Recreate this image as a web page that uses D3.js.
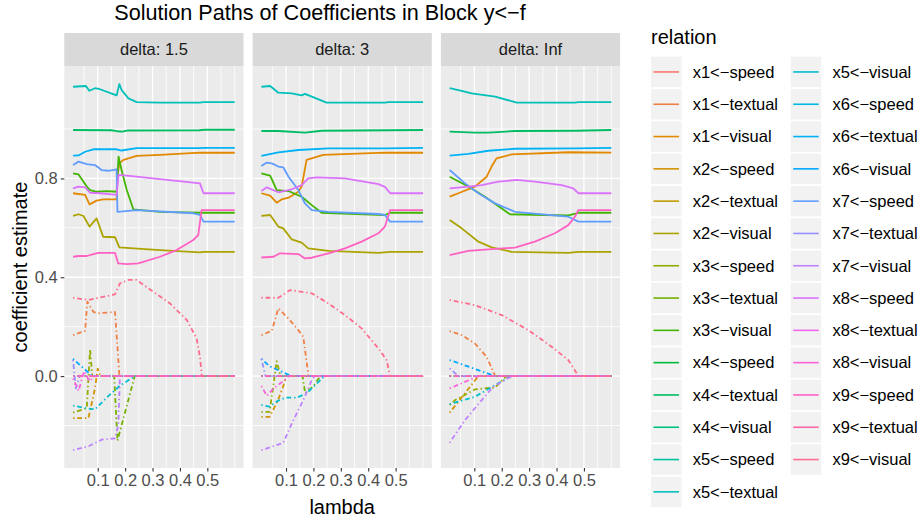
<!DOCTYPE html>
<html>
<head>
<meta charset="utf-8">
<script src="https://cdn.jsdelivr.net/npm/d3@7.9.0/dist/d3.min.js"></script>
<style>
  body { margin: 0; background: #fff; }
  svg { display: block; font-family: "Liberation Sans", Arial, sans-serif; }
</style>
</head>
<body>
<svg id="chart" width="922" height="525"></svg>
<script>
// relations in legend order
const relations = [
  'x1<-speed', 'x1<-textual', 'x1<-visual',
  'x2<-speed', 'x2<-textual', 'x2<-visual',
  'x3<-speed', 'x3<-textual', 'x3<-visual',
  'x4<-speed', 'x4<-textual', 'x4<-visual',
  'x5<-speed', 'x5<-textual', 'x5<-visual',
  'x6<-speed', 'x6<-textual', 'x6<-visual',
  'x7<-speed', 'x7<-textual', 'x7<-visual',
  'x8<-speed', 'x8<-textual', 'x8<-visual',
  'x9<-speed', 'x9<-textual', 'x9<-visual'
];
// loadings drawn solid, the rest are cross-loadings (dot-dash)
const mainLoadings = [
  'x1<-visual', 'x2<-visual', 'x3<-visual',
  'x4<-textual', 'x5<-textual', 'x6<-textual',
  'x7<-speed', 'x8<-speed', 'x9<-speed'
];
const deltas = ['1.5', '3', 'Inf'];
const xTicks = [0.1, 0.2, 0.3, 0.4, 0.5];
const yTicks = [0, 0.4, 0.8];

// [lambda, estimate]; a relation not listed stays at 0
const zeroPath = [[0.01, 0], [0.6, 0]];

const delta15 = {
  'x5<-textual': [[0.01,1.171],[0.057,1.174],[0.069,1.155],[0.09,1.165],[0.108,1.161],[0.169,1.136],[0.179,1.182],[0.187,1.158],[0.212,1.124],[0.242,1.109],[0.327,1.107],[0.473,1.107],[0.486,1.109],[0.6,1.109]],
  'x4<-textual': [[0.01,0.996],[0.15,0.995],[0.17,0.991],[0.19,0.989],[0.21,0.994],[0.47,0.995],[0.49,0.997],[0.6,0.997]],
  'x6<-textual': [[0.01,0.892],[0.03,0.893],[0.054,0.908],[0.084,0.918],[0.169,0.918],[0.187,0.913],[0.242,0.923],[0.473,0.923],[0.486,0.924],[0.6,0.924]],
  'x1<-visual': [[0.01,0.74],[0.054,0.733],[0.07,0.695],[0.096,0.71],[0.12,0.715],[0.169,0.715],[0.172,0.81],[0.179,0.861],[0.194,0.875],[0.242,0.891],[0.327,0.895],[0.473,0.904],[0.6,0.904]],
  'x7<-speed': [[0.01,0.854],[0.03,0.868],[0.06,0.858],[0.09,0.854],[0.114,0.834],[0.139,0.831],[0.169,0.837],[0.172,0.665],[0.242,0.672],[0.449,0.659],[0.473,0.652],[0.486,0.625],[0.6,0.625]],
  'x3<-visual': [[0.01,0.82],[0.03,0.816],[0.06,0.767],[0.072,0.753],[0.096,0.746],[0.133,0.749],[0.169,0.746],[0.176,0.888],[0.187,0.834],[0.206,0.753],[0.23,0.675],[0.327,0.665],[0.473,0.661],[0.6,0.661]],
  'x8<-speed': [[0.01,0.76],[0.03,0.767],[0.054,0.764],[0.072,0.742],[0.108,0.74],[0.169,0.733],[0.176,0.814],[0.206,0.811],[0.449,0.783],[0.473,0.78],[0.486,0.74],[0.6,0.74]],
  'x9<-speed': [[0.01,0.483],[0.03,0.486],[0.06,0.486],[0.084,0.494],[0.102,0.499],[0.163,0.499],[0.175,0.456],[0.206,0.453],[0.248,0.456],[0.327,0.483],[0.388,0.51],[0.449,0.551],[0.467,0.571],[0.479,0.672],[0.6,0.672]],
  'x2<-visual': [[0.01,0.648],[0.03,0.655],[0.048,0.648],[0.07,0.605],[0.096,0.638],[0.12,0.564],[0.163,0.562],[0.179,0.521],[0.327,0.51],[0.473,0.501],[0.486,0.503],[0.6,0.503]],
  'x9<-visual': [[0.01,0.317],[0.066,0.308],[0.163,0.331],[0.181,0.375],[0.212,0.389],[0.242,0.389],[0.303,0.341],[0.364,0.294],[0.425,0.227],[0.461,0.152],[0.473,0.078],[0.48,0],[0.6,0]],
  'x1<-textual': [[0.01,0.166],[0.054,0.183],[0.062,0.301],[0.084,0.26],[0.102,0.254],[0.163,0.26],[0.172,0.12],[0.179,0],[0.6,0]],
  'x7<-visual': [[0.01,-0.3],[0.066,-0.284],[0.115,-0.257],[0.163,-0.252],[0.175,-0.2],[0.181,0],[0.6,0]],
  'x6<-visual': [[0.01,0.07],[0.04,0.04],[0.08,0],[0.6,0]],
  'x5<-visual': [[0.01,-0.12],[0.06,-0.13],[0.09,-0.135],[0.13,-0.09],[0.18,-0.04],[0.235,0],[0.6,0]],
  'x7<-textual': [[0.01,0.065],[0.02,-0.05],[0.035,0],[0.6,0]],
  'x3<-speed': [[0.01,-0.148],[0.06,-0.13],[0.072,0.11],[0.08,0],[0.6,0]],
  'x3<-textual': [[0.01,0],[0.16,0],[0.172,-0.262],[0.235,0],[0.6,0]],
  'x2<-speed': [[0.01,-0.17],[0.066,-0.17],[0.09,-0.05],[0.1,0.03],[0.11,0],[0.6,0]],
  'x8<-visual': [[0.01,-0.01],[0.03,-0.06],[0.05,0.02],[0.07,-0.02],[0.09,0],[0.6,0]]
};

const delta3 = {
  'x5<-textual': [[0.01,1.171],[0.042,1.174],[0.072,1.147],[0.121,1.144],[0.157,1.136],[0.169,1.142],[0.194,1.131],[0.248,1.107],[0.461,1.107],[0.473,1.109],[0.6,1.109]],
  'x4<-textual': [[0.01,0.992],[0.072,0.992],[0.169,0.985],[0.23,0.993],[0.473,0.995],[0.6,0.996]],
  'x6<-textual': [[0.01,0.891],[0.072,0.905],[0.145,0.915],[0.255,0.922],[0.461,0.922],[0.6,0.924]],
  'x1<-visual': [[0.01,0.74],[0.042,0.73],[0.066,0.702],[0.084,0.715],[0.109,0.722],[0.145,0.746],[0.157,0.767],[0.175,0.875],[0.236,0.895],[0.461,0.904],[0.6,0.904]],
  'x7<-speed': [[0.01,0.85],[0.03,0.864],[0.048,0.861],[0.072,0.848],[0.09,0.845],[0.109,0.807],[0.145,0.753],[0.169,0.699],[0.194,0.672],[0.255,0.665],[0.437,0.656],[0.461,0.652],[0.48,0.625],[0.6,0.625]],
  'x3<-visual': [[0.01,0.82],[0.042,0.811],[0.066,0.753],[0.109,0.749],[0.157,0.726],[0.194,0.692],[0.23,0.661],[0.461,0.652],[0.48,0.661],[0.6,0.661]],
  'x8<-speed': [[0.01,0.749],[0.03,0.764],[0.072,0.744],[0.121,0.756],[0.157,0.773],[0.181,0.8],[0.212,0.804],[0.315,0.8],[0.437,0.777],[0.461,0.766],[0.48,0.74],[0.6,0.74]],
  'x9<-speed': [[0.01,0.48],[0.054,0.483],[0.078,0.497],[0.145,0.494],[0.169,0.476],[0.194,0.479],[0.255,0.497],[0.315,0.517],[0.376,0.544],[0.437,0.578],[0.461,0.605],[0.48,0.672],[0.6,0.672]],
  'x2<-visual': [[0.01,0.648],[0.042,0.652],[0.072,0.605],[0.09,0.598],[0.121,0.553],[0.157,0.54],[0.181,0.517],[0.255,0.507],[0.437,0.499],[0.48,0.503],[0.6,0.503]],
  'x9<-visual': [[0.01,0.317],[0.072,0.317],[0.115,0.348],[0.194,0.335],[0.255,0.294],[0.315,0.247],[0.376,0.193],[0.437,0.112],[0.467,0.065],[0.48,0],[0.6,0]],
  'x1<-textual': [[0.01,0.166],[0.048,0.183],[0.072,0.274],[0.109,0.233],[0.145,0.186],[0.163,0.159],[0.182,0],[0.6,0]],
  'x7<-visual': [[0.01,-0.3],[0.09,-0.27],[0.121,-0.192],[0.163,-0.097],[0.194,-0.016],[0.206,0],[0.6,0]],
  'x6<-visual': [[0.01,0.07],[0.04,0.04],[0.09,0.015],[0.12,0],[0.6,0]],
  'x5<-visual': [[0.01,-0.117],[0.04,-0.124],[0.07,-0.1],[0.1,-0.087],[0.14,-0.087],[0.175,-0.07],[0.24,0],[0.6,0]],
  'x3<-speed': [[0.01,-0.145],[0.04,-0.145],[0.066,0.06],[0.08,0],[0.6,0]],
  'x3<-textual': [[0.01,0],[0.16,0],[0.17,-0.07],[0.2,-0.04],[0.225,0],[0.6,0]],
  'x2<-speed': [[0.01,-0.165],[0.04,-0.165],[0.07,-0.1],[0.09,-0.04],[0.1,0],[0.6,0]],
  'x8<-visual': [[0.01,-0.04],[0.03,-0.08],[0.054,-0.05],[0.09,-0.02],[0.11,0],[0.6,0]],
  'x7<-textual': [[0.01,0.07],[0.025,0.0],[0.6,0]]
};

const deltaInf = {
  'x5<-textual': [[0.01,1.165],[0.054,1.154],[0.09,1.144],[0.176,1.131],[0.255,1.107],[0.467,1.107],[0.48,1.109],[0.6,1.109]],
  'x4<-textual': [[0.01,0.989],[0.102,0.985],[0.151,0.985],[0.248,0.992],[0.467,0.993],[0.6,0.996]],
  'x6<-textual': [[0.01,0.892],[0.078,0.899],[0.151,0.912],[0.248,0.92],[0.467,0.922],[0.6,0.924]],
  'x1<-visual': [[0.01,0.726],[0.042,0.74],[0.102,0.767],[0.145,0.807],[0.163,0.848],[0.181,0.881],[0.236,0.897],[0.443,0.906],[0.6,0.904]],
  'x7<-speed': [[0.01,0.834],[0.066,0.78],[0.115,0.74],[0.176,0.699],[0.248,0.665],[0.443,0.645],[0.48,0.625],[0.6,0.625]],
  'x3<-visual': [[0.01,0.807],[0.078,0.767],[0.139,0.726],[0.23,0.655],[0.443,0.65],[0.48,0.661],[0.6,0.661]],
  'x8<-speed': [[0.01,0.76],[0.078,0.767],[0.127,0.773],[0.188,0.787],[0.255,0.794],[0.321,0.787],[0.419,0.773],[0.461,0.76],[0.48,0.74],[0.6,0.74]],
  'x9<-speed': [[0.01,0.49],[0.078,0.507],[0.151,0.513],[0.248,0.52],[0.321,0.544],[0.394,0.578],[0.443,0.611],[0.467,0.645],[0.48,0.672],[0.6,0.672]],
  'x2<-visual': [[0.01,0.632],[0.054,0.598],[0.115,0.544],[0.163,0.521],[0.236,0.503],[0.443,0.499],[0.48,0.503],[0.6,0.503]],
  'x9<-visual': [[0.01,0.308],[0.102,0.287],[0.2,0.247],[0.297,0.186],[0.382,0.119],[0.443,0.065],[0.48,0],[0.6,0]],
  'x1<-textual': [[0.01,0.182],[0.054,0.166],[0.102,0.132],[0.145,0.078],[0.176,0],[0.6,0]],
  'x7<-visual': [[0.01,-0.27],[0.066,-0.178],[0.127,-0.097],[0.169,-0.043],[0.236,0],[0.6,0]],
  'x6<-visual': [[0.01,0.065],[0.176,0],[0.6,0]],
  'x8<-visual': [[0.01,-0.05],[0.115,0],[0.6,0]],
  'x2<-speed': [[0.01,-0.148],[0.115,0],[0.6,0]],
  'x3<-speed': [[0.01,-0.117],[0.03,-0.097],[0.102,-0.054],[0.176,-0.046],[0.218,0],[0.6,0]],
  'x5<-visual': [[0.01,-0.113],[0.102,-0.084],[0.176,-0.036],[0.236,0],[0.6,0]],
  'x7<-textual': [[0.01,0.031],[0.042,0],[0.6,0]]
};

const facetPaths = [delta15, delta3, deltaInf];

// ggplot2 default hue palette (HCL in CIE-LUV, c = 100, l = 65)
function hueColor(h) {
  const L = 65, C = 100, hr = h * Math.PI / 180;
  const U = C * Math.cos(hr), V = C * Math.sin(hr);
  const Y = Math.pow((L + 16) / 116, 3);
  const Xn = 0.95047, Yn = 1, Zn = 1.08883;
  const den = Xn + 15 * Yn + 3 * Zn;
  const u = U / (13 * L) + 4 * Xn / den, v = V / (13 * L) + 9 * Yn / den;
  const X = Y * 9 * u / (4 * v);
  const Z = Y * (12 - 3 * u - 20 * v) / (4 * v);
  const lin = [
    3.240479 * X - 1.53715 * Y - 0.498535 * Z,
    -0.969256 * X + 1.875992 * Y + 0.041556 * Z,
    0.055648 * X - 0.204043 * Y + 1.057311 * Z
  ];
  const c = lin.map((t) => {
    const g = t <= 0.0031308 ? 12.92 * t : 1.055 * Math.pow(t, 1 / 2.4) - 0.055;
    return Math.round(255 * Math.max(0, Math.min(1, g)));
  });
  return d3.rgb(c[0], c[1], c[2]).formatHex();
}
const hues = d3.range(relations.length).map((i) => 15 + i * 360 / relations.length);
const color = d3.scaleOrdinal(relations, hues.map(hueColor));
const label = (r) => r.replace('<-', '<\u2212');

const svg = d3.select('#chart');

const panelW = 179.2, panelTop = 66, panelBottom = 468, stripTop = 33;
const panelLeft = [64.3, 252.6, 440.9];

const y = d3.scaleLinear().domain([-0.372, 1.255]).range([panelBottom, panelTop]);

svg.append('text')
  .attr('x', 320).attr('y', 20)
  .attr('text-anchor', 'middle')
  .attr('font-size', 21.6).attr('fill', '#000')
  .text('Solution Paths of Coefficients in Block y<\u2212f');

const line = d3.line();

deltas.forEach((delta, fi) => {
  const x0 = panelLeft[fi];
  const x = d3.scaleLinear().domain([-0.022, 0.632]).range([x0, x0 + panelW]);
  const g = svg.append('g');

  g.append('rect')
    .attr('x', x0).attr('y', stripTop)
    .attr('width', panelW).attr('height', panelTop - stripTop)
    .attr('fill', '#d9d9d9');
  g.append('text')
    .attr('x', x0 + panelW / 2).attr('y', (stripTop + panelTop) / 2 + 5.8)
    .attr('text-anchor', 'middle')
    .attr('font-size', 16.5).attr('fill', '#1a1a1a')
    .text(`delta: ${delta}`);

  g.append('rect')
    .attr('x', x0).attr('y', panelTop)
    .attr('width', panelW).attr('height', panelBottom - panelTop)
    .attr('fill', '#ebebeb');

  // grid
  const xMinor = [0.05, 0.15, 0.25, 0.35, 0.45, 0.55, 0.6];
  const yMinor = [-0.2, 0.2, 0.6, 1.0];
  g.selectAll('.xminor').data(xMinor).join('line')
    .attr('x1', (d) => x(d)).attr('x2', (d) => x(d))
    .attr('y1', panelTop).attr('y2', panelBottom)
    .attr('stroke', '#fff').attr('stroke-width', 0.8);
  g.selectAll('.yminor').data(yMinor).join('line')
    .attr('x1', x0).attr('x2', x0 + panelW)
    .attr('y1', (d) => y(d)).attr('y2', (d) => y(d))
    .attr('stroke', '#fff').attr('stroke-width', 0.8);
  g.selectAll('.xmajor').data(xTicks).join('line')
    .attr('x1', (d) => x(d)).attr('x2', (d) => x(d))
    .attr('y1', panelTop).attr('y2', panelBottom)
    .attr('stroke', '#fff').attr('stroke-width', 1.3);
  g.selectAll('.ymajor').data(yTicks).join('line')
    .attr('x1', x0).attr('x2', x0 + panelW)
    .attr('y1', (d) => y(d)).attr('y2', (d) => y(d))
    .attr('stroke', '#fff').attr('stroke-width', 1.3);

  // paths
  const paths = facetPaths[fi];
  relations.forEach((rel) => {
    const pts = paths[rel] || zeroPath;
    const main = mainLoadings.includes(rel);
    g.append('path')
      .attr('d', line(pts.map(([l, v]) => [x(l), y(v)])))
      .attr('fill', 'none')
      .attr('stroke', color(rel))
      .attr('stroke-width', 1.8)
      .attr('stroke-linejoin', 'round')
      .attr('stroke-dasharray', main ? null : '1.4 2.8 4.8 2.8');
  });

  // x axis
  const xAxis = g.append('g').attr('transform', `translate(0,${panelBottom})`)
    .call(d3.axisBottom(x).tickValues(xTicks).tickSize(3.6).tickPadding(3).tickFormat(d3.format('.1f')));
  xAxis.select('.domain').remove();
  xAxis.selectAll('line').attr('stroke', '#333').attr('stroke-width', 1.1);
  xAxis.selectAll('text').attr('font-size', 16.5).attr('fill', '#4d4d4d')
    .attr('font-family', '"Liberation Sans", Arial, sans-serif');
});

// y axis
const yAxis = svg.append('g').attr('transform', `translate(${panelLeft[0]},0)`)
  .call(d3.axisLeft(y).tickValues(yTicks).tickSize(3.6).tickPadding(3).tickFormat(d3.format('.1f')));
yAxis.select('.domain').remove();
yAxis.selectAll('line').attr('stroke', '#333').attr('stroke-width', 1.1);
yAxis.selectAll('text').attr('font-size', 16.5).attr('fill', '#4d4d4d')
  .attr('font-family', '"Liberation Sans", Arial, sans-serif');

svg.append('text')
  .attr('transform', `translate(27,${(panelTop + panelBottom) / 2}) rotate(-90)`)
  .attr('text-anchor', 'middle').attr('font-size', 20).attr('fill', '#000')
  .text('coefficient estimate');
svg.append('text')
  .attr('x', (panelLeft[0] + panelLeft[2] + panelW) / 2).attr('y', 514)
  .attr('text-anchor', 'middle').attr('font-size', 20).attr('fill', '#000')
  .text('lambda');

// legend
const legend = svg.append('g');
legend.append('text')
  .attr('x', 651).attr('y', 44)
  .attr('font-size', 20).attr('fill', '#000')
  .text('relation');
const perCol = 14, keyTop = 56.7, pitch = 32.3, keySize = 30.5;
const colX = [651, 790.7];
relations.forEach((rel, i) => {
  const cx = colX[Math.floor(i / perCol)];
  const ky = keyTop + (i % perCol) * pitch;
  const item = legend.append('g').attr('transform', `translate(${cx},${ky})`);
  item.append('rect').attr('width', keySize).attr('height', keySize).attr('fill', '#f2f2f2');
  item.append('line')
    .attr('x1', 2.5).attr('x2', keySize - 2.5)
    .attr('y1', keySize / 2).attr('y2', keySize / 2)
    .attr('stroke', color(rel)).attr('stroke-width', 1.6);
  item.append('text')
    .attr('x', 41.7).attr('y', keySize / 2 + 5.8)
    .attr('font-size', 16.5).attr('fill', '#000')
    .text(label(rel));
});
</script>
</body>
</html>
